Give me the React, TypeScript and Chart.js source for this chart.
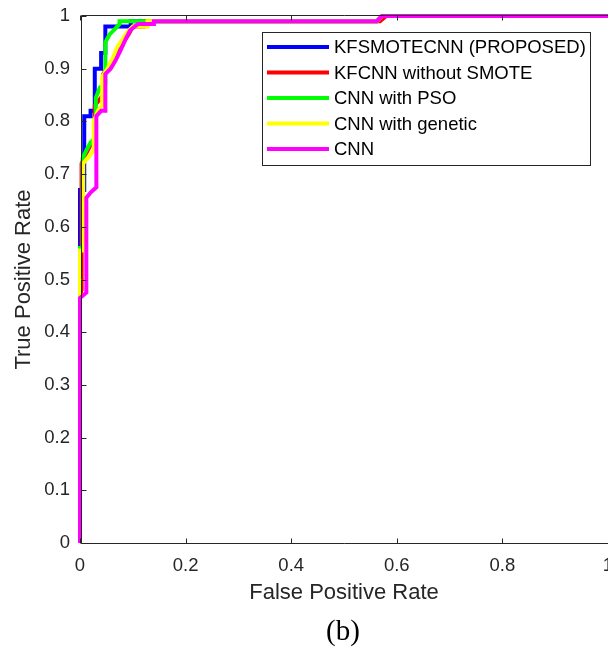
import React, { useEffect, useRef } from 'react';
import { Chart, registerables } from 'chart.js';

Chart.register(...registerables);

const seriesNames = [
  'KFSMOTECNN (PROPOSED)',
  'KFCNN without SMOTE',
  'CNN with PSO',
  'CNN with genetic',
  'CNN',
];
const seriesColors = ['#0000FF', '#FF0000', '#00FF00', '#FFFF00', '#FF00FF'];

const fprProposed = [0, 0, 0.008, 0.008, 0.02, 0.02, 0.028, 0.028, 0.04, 0.04, 0.048, 0.048, 0.096, 0.096, 0.562, 0.572, 1];
const tprProposed = [0, 0.67, 0.67, 0.81, 0.81, 0.82, 0.82, 0.9, 0.9, 0.93, 0.93, 0.98, 0.98, 0.99, 0.99, 1, 1];

const fprNoSmote = [0, 0, 0.003, 0.003, 0.012, 0.02, 0.028, 0.028, 0.036, 0.044, 0.044, 0.055, 0.065, 0.072, 0.082, 0.092, 0.1, 0.12, 0.12, 0.568, 0.58, 1];
const tprNoSmote = [0, 0.47, 0.48, 0.72, 0.74, 0.755, 0.76, 0.83, 0.84, 0.85, 0.89, 0.905, 0.92, 0.935, 0.95, 0.965, 0.98, 0.98, 0.99, 0.99, 1, 1];

const fprPso = [0, 0, 0.005, 0.005, 0.012, 0.02, 0.03, 0.03, 0.038, 0.048, 0.048, 0.056, 0.066, 0.075, 0.075, 0.562, 0.572, 1];
const tprPso = [0, 0.56, 0.56, 0.73, 0.745, 0.76, 0.77, 0.845, 0.865, 0.87, 0.95, 0.965, 0.975, 0.985, 0.99, 0.99, 1, 1];

const fprGenetic = [0, 0, 0.006, 0.006, 0.018, 0.026, 0.026, 0.034, 0.042, 0.042, 0.052, 0.062, 0.07, 0.08, 0.09, 0.1, 0.128, 0.128, 0.562, 0.572, 1];
const tprGenetic = [0, 0.555, 0.555, 0.72, 0.735, 0.745, 0.8, 0.82, 0.83, 0.885, 0.9, 0.92, 0.94, 0.955, 0.97, 0.98, 0.98, 0.99, 0.99, 1, 1];

const fprCnn = [0, 0, 0.012, 0.012, 0.02, 0.031, 0.031, 0.04, 0.048, 0.048, 0.058, 0.067, 0.077, 0.086, 0.095, 0.11, 0.14, 0.14, 0.562, 0.572, 1];
const tprCnn = [0, 0.465, 0.475, 0.655, 0.665, 0.675, 0.81, 0.82, 0.82, 0.89, 0.9, 0.915, 0.935, 0.955, 0.973, 0.985, 0.985, 0.99, 0.99, 1, 1];

const xTicks = [0, 0.2, 0.4, 0.6, 0.8, 1];
const yTicks = [0, 0.1, 0.2, 0.3, 0.4, 0.5, 0.6, 0.7, 0.8, 0.9, 1];

const xTitle = 'False Positive Rate';
const yTitle = 'True Positive Rate';
const caption = '(b)';

const FONT = "'Liberation Sans', Arial, Helvetica, sans-serif";
const AXIS = '#262626';

const allFpr = [fprProposed, fprNoSmote, fprPso, fprGenetic, fprCnn];
const allTpr = [tprProposed, tprNoSmote, tprPso, tprGenetic, tprCnn];

const axesPlugin = {
  id: 'matlabAxes',
  afterDatasetsDraw(chart: any) {
    const { ctx, chartArea, scales } = chart;
    const { left, right, top, bottom } = chartArea;
    const xs = scales.x;
    const ys = scales.y;
    ctx.save();
    ctx.strokeStyle = AXIS;
    ctx.lineWidth = 1;
    const lx = Math.round(left) + 1.5;
    const by = Math.round(bottom) + 0.5;
    const ty = Math.round(top) - 0.5;
    ctx.beginPath();
    ctx.moveTo(lx, ty);
    ctx.lineTo(lx, by);
    ctx.moveTo(lx, by);
    ctx.lineTo(right, by);
    ctx.moveTo(lx, ty);
    ctx.lineTo(right, ty);
    yTicks.forEach((v) => {
      const py = Math.round(ys.getPixelForValue(v)) + 0.5;
      ctx.moveTo(lx, py);
      ctx.lineTo(lx + 5, py);
    });
    xTicks.forEach((v) => {
      const px = Math.round(xs.getPixelForValue(v)) + 0.5;
      ctx.moveTo(px, by);
      ctx.lineTo(px, by - 5);
      ctx.moveTo(px, ty);
      ctx.lineTo(px, ty + 5);
    });
    ctx.stroke();
    ctx.restore();
  },
  afterDraw(chart: any) {
    const { ctx } = chart;
    ctx.save();
    // legend
    const bx = 262.5, byy = 32.5, bw = 328, bh = 133;
    ctx.fillStyle = '#FFFFFF';
    ctx.fillRect(bx, byy, bw, bh);
    ctx.strokeStyle = AXIS;
    ctx.lineWidth = 1;
    ctx.strokeRect(bx, byy, bw, bh);
    ctx.font = `18.5px ${FONT}`;
    ctx.textAlign = 'left';
    ctx.textBaseline = 'middle';
    seriesNames.forEach((name, i) => {
      const cy = 47 + i * 25.5;
      ctx.strokeStyle = seriesColors[i];
      ctx.lineWidth = 4;
      ctx.beginPath();
      ctx.moveTo(267, cy);
      ctx.lineTo(329, cy);
      ctx.stroke();
      ctx.fillStyle = '#000000';
      ctx.fillText(name, 334, cy + 1);
    });
    // caption
    ctx.font = "29px 'Liberation Serif', 'Times New Roman', serif";
    ctx.textAlign = 'center';
    ctx.textBaseline = 'middle';
    ctx.fillStyle = '#000000';
    ctx.fillText(caption, 343, 632);
    ctx.restore();
  },
};

export default function App() {
  const canvasRef = useRef<HTMLCanvasElement | null>(null);

  useEffect(() => {
    const canvas = canvasRef.current;
    if (!canvas) return;
    const datasets = seriesNames.map((name, i) => ({
      label: name,
      data: allFpr[i].map((f, j) => ({ x: f, y: allTpr[i][j] })),
      borderColor: seriesColors[i],
      backgroundColor: seriesColors[i],
      borderWidth: 4,
      pointRadius: 0,
      showLine: true,
      fill: false,
      tension: 0,
      clip: false as any,
      borderJoinStyle: 'miter' as const,
      borderCapStyle: 'butt' as const,
      order: seriesNames.length - 1 - i,
    }));

    const chart = new Chart(canvas, {
      type: 'scatter',
      data: { datasets },
      plugins: [axesPlugin],
      options: {
        animation: false,
        responsive: false,
        devicePixelRatio: 1,
        layout: { padding: { top: 16, left: 0, right: 0, bottom: 0 } },
        plugins: {
          legend: { display: false },
          tooltip: { enabled: false },
        },
        scales: {
          x: {
            type: 'linear',
            min: 0,
            max: 1,
            afterBuildTicks: (s: any) => {
              s.ticks = xTicks.map((v) => ({ value: v }));
            },
            ticks: {
              color: AXIS,
              font: { family: FONT, size: 18.5 },
              padding: 12,
              maxRotation: 0,
              autoSkip: false,
              callback: (v: any) => String(v),
            },
            grid: { display: false, drawTicks: false },
            border: { display: false },
            title: {
              display: true,
              text: xTitle,
              color: AXIS,
              font: { family: FONT, size: 22 },
              padding: { top: 0, bottom: 42 },
            },
            afterFit: (s: any) => {
              s.height = 105;
              s.paddingLeft = 0;
              s.paddingRight = 0;
            },
          },
          y: {
            type: 'linear',
            min: 0,
            max: 1,
            afterBuildTicks: (s: any) => {
              s.ticks = yTicks.map((v) => ({ value: v }));
            },
            ticks: {
              color: AXIS,
              font: { family: FONT, size: 18.5 },
              padding: 10,
              autoSkip: false,
              callback: (v: any) => String(v),
            },
            grid: { display: false, drawTicks: false },
            border: { display: false },
            title: {
              display: true,
              text: yTitle,
              color: AXIS,
              font: { family: FONT, size: 22 },
              padding: { top: 10.5, bottom: 0 },
            },
            afterFit: (s: any) => {
              s.width = 80;
              s.paddingTop = 0;
              s.paddingBottom = 0;
            },
          },
        },
      },
    });
    return () => chart.destroy();
  }, []);

  return (
    <div style={{ position: 'absolute', left: 0, top: 0, width: 608, height: 648, background: '#fff' }}>
      <canvas ref={canvasRef} width={608} height={648} style={{ display: 'block' }} />
    </div>
  );
}
